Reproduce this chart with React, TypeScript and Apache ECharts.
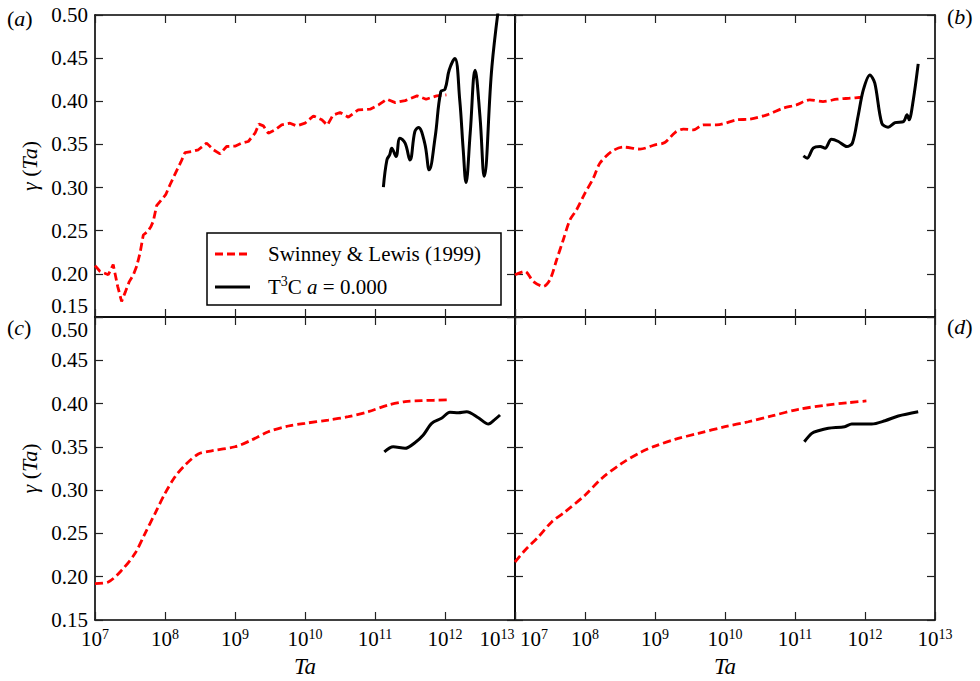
import React, { useEffect, useRef } from 'react';
import * as echarts from 'echarts';

const FONT = "'Liberation Serif', 'Times New Roman', serif";
const FS = 21;
const FS_SUP = 14;

// Axis ticks
const X_MIN_EXP = 7;
const X_MAX_EXP = 13;
const Y_MIN = 0.15;
const Y_MAX = 0.5;
const Y_STEP = 0.05;

const SERIES_RED = 'Swinney & Lewis (1999)';
const SERIES_BLACK = 'T³C a = 0.000';

// Panel (a): log10(Ta) and gamma
const aRedLogTa = [7.0, 7.07, 7.19, 7.26, 7.324, 7.38, 7.438, 7.49, 7.548, 7.595, 7.643, 7.69, 7.752, 7.8, 7.833, 7.88, 7.952, 8.01, 8.07, 8.143, 8.229, 8.286, 8.38, 8.476, 8.595, 8.69, 8.786, 8.88, 9.0, 9.095, 9.19, 9.286, 9.343, 9.405, 9.476, 9.571, 9.667, 9.786, 9.88, 10.0, 10.12, 10.24, 10.32, 10.4, 10.5, 10.62, 10.76, 10.93, 11.05, 11.17, 11.29, 11.43, 11.6, 11.73, 11.88, 12.02];
const aRedGamma = [0.2095, 0.203, 0.199, 0.2107, 0.1855, 0.168, 0.18, 0.191, 0.199, 0.2087, 0.224, 0.245, 0.249, 0.255, 0.261, 0.279, 0.286, 0.2917, 0.303, 0.3156, 0.33, 0.3406, 0.3418, 0.3438, 0.3515, 0.3438, 0.339, 0.3476, 0.348, 0.3515, 0.3534, 0.363, 0.3735, 0.3715, 0.363, 0.3668, 0.3727, 0.3746, 0.3715, 0.3746, 0.383, 0.3785, 0.3723, 0.384, 0.387, 0.3816, 0.39, 0.3909, 0.3958, 0.4024, 0.3985, 0.4008, 0.4063, 0.4024, 0.4063, 0.4074];
const aBlackLogTa = [11.12, 11.17, 11.21, 11.24, 11.3, 11.357, 11.43, 11.5, 11.57, 11.62, 11.71, 11.775, 11.86, 11.94, 12.0, 12.06, 12.14, 12.21, 12.26, 12.3, 12.36, 12.43, 12.5, 12.56, 12.67, 12.8];
const aBlackGamma = [0.3006, 0.332, 0.338, 0.3457, 0.336, 0.3573, 0.3515, 0.332, 0.365, 0.3696, 0.3515, 0.3206, 0.359, 0.4112, 0.414, 0.4363, 0.4497, 0.402, 0.344, 0.306, 0.363, 0.436, 0.382, 0.313, 0.44, 0.53];

// Panel (b)
const bRedLogTa = [7.0, 7.14, 7.26, 7.405, 7.5, 7.595, 7.69, 7.786, 7.88, 8.0, 8.12, 8.214, 8.38, 8.548, 8.786, 9.0, 9.14, 9.286, 9.405, 9.548, 9.69, 9.88, 10.17, 10.36, 10.6, 10.83, 11.02, 11.21, 11.4, 11.6, 11.79, 11.95];
const bRedGamma = [0.199, 0.2029, 0.1913, 0.1855, 0.1933, 0.2164, 0.2396, 0.2627, 0.2743, 0.2936, 0.311, 0.3284, 0.3418, 0.3469, 0.3446, 0.3495, 0.3522, 0.3638, 0.3677, 0.3669, 0.3727, 0.3727, 0.3785, 0.3793, 0.3843, 0.392, 0.3958, 0.4016, 0.3997, 0.4024, 0.4036, 0.4047];
const bBlackLogTa = [11.12, 11.175, 11.26, 11.36, 11.43, 11.52, 11.62, 11.74, 11.82, 11.9, 11.975, 12.07, 12.14, 12.24, 12.33, 12.43, 12.55, 12.6, 12.63, 12.69, 12.76];
const bBlackGamma = [0.3368, 0.3341, 0.3457, 0.3476, 0.3457, 0.356, 0.3534, 0.3476, 0.3515, 0.3823, 0.413, 0.4306, 0.421, 0.3746, 0.37, 0.3753, 0.3765, 0.3843, 0.3785, 0.4016, 0.4433];

// Panel (c)
const cRedLogTa = [7.0, 7.19, 7.38, 7.57, 7.714, 7.857, 8.0, 8.143, 8.286, 8.476, 8.667, 9.0, 9.238, 9.476, 9.762, 10.0, 10.333, 10.62, 10.905, 11.19, 11.43, 11.667, 12.05];
const cRedGamma = [0.192, 0.1939, 0.2074, 0.2267, 0.2499, 0.273, 0.2962, 0.3154, 0.3289, 0.3417, 0.3455, 0.3501, 0.3579, 0.3675, 0.3741, 0.3772, 0.381, 0.3849, 0.3906, 0.3984, 0.4022, 0.4034, 0.4042];
const cBlackLogTa = [11.133, 11.26, 11.43, 11.57, 11.69, 11.81, 11.95, 12.07, 12.19, 12.31, 12.476, 12.62, 12.714, 12.786];
const cBlackGamma = [0.3443, 0.3501, 0.3483, 0.3548, 0.3637, 0.3772, 0.383, 0.3899, 0.3895, 0.3906, 0.3837, 0.3764, 0.3818, 0.3868];

// Panel (d)
const dRedLogTa = [7.0, 7.143, 7.333, 7.524, 7.714, 8.0, 8.238, 8.524, 8.81, 9.0, 9.286, 9.62, 10.0, 10.333, 10.667, 11.05, 11.43, 11.76, 12.02];
const dRedGamma = [0.217, 0.2306, 0.246, 0.2633, 0.2749, 0.2942, 0.3135, 0.3309, 0.3443, 0.3509, 0.3587, 0.3656, 0.3733, 0.379, 0.3857, 0.3934, 0.398, 0.401, 0.403];
const dBlackLogTa = [11.133, 11.24, 11.333, 11.476, 11.71, 11.81, 12.095, 12.286, 12.476, 12.76];
const dBlackGamma = [0.3559, 0.3656, 0.3686, 0.3714, 0.3733, 0.3764, 0.3764, 0.3802, 0.3857, 0.3906];

const toPairs = (logTa: number[], gamma: number[]) => logTa.map((e, i) => [Math.pow(10, e), gamma[i]]);

const near = (a: number, b: number) => Math.abs(a - b) < 1e-6;

type Panel = {
  key: string;
  left: number;
  top: number;
  width: number;
  height: number;
  showX: boolean;
  showY: boolean;
  isTop: boolean;
  red: number[][];
  black: number[][];
  redSmooth: number | boolean;
  blackSmooth: number | boolean;
};

const PANELS: Panel[] = [
  { key: 'a', left: 95, top: 15, width: 420, height: 302, showX: false, showY: true, isTop: true, red: toPairs(aRedLogTa, aRedGamma), black: toPairs(aBlackLogTa, aBlackGamma), redSmooth: false, blackSmooth: 0.4 },
  { key: 'b', left: 515, top: 15, width: 420, height: 302, showX: false, showY: false, isTop: true, red: toPairs(bRedLogTa, bRedGamma), black: toPairs(bBlackLogTa, bBlackGamma), redSmooth: 0.3, blackSmooth: 0.3 },
  { key: 'c', left: 95, top: 317, width: 420, height: 303, showX: true, showY: true, isTop: false, red: toPairs(cRedLogTa, cRedGamma), black: toPairs(cBlackLogTa, cBlackGamma), redSmooth: 0.3, blackSmooth: 0.3 },
  { key: 'd', left: 515, top: 317, width: 420, height: 303, showX: true, showY: false, isTop: false, red: toPairs(dRedLogTa, dRedGamma), black: toPairs(dBlackLogTa, dBlackGamma), redSmooth: 0.3, blackSmooth: 0.3 },
];

const axisLine = { show: true, onZero: false, lineStyle: { color: '#000', width: 1.6 } };
const axisTick = { show: true, inside: true, length: 8, lineStyle: { color: '#222', width: 1.2 } };

function buildOption() {
  const grid: any[] = [];
  const xAxis: any[] = [];
  const yAxis: any[] = [];
  const series: any[] = [];

  PANELS.forEach((p, i) => {
    grid.push({ left: p.left, top: p.top, width: p.width, height: p.height, containLabel: false });

    const xBase: any = {
      gridIndex: i,
      type: 'log',
      logBase: 10,
      min: Math.pow(10, X_MIN_EXP),
      max: Math.pow(10, X_MAX_EXP),
      splitNumber: X_MAX_EXP - X_MIN_EXP,
      axisLine,
      axisTick,
      minorTick: { show: false },
      splitLine: { show: false },
    };
    xAxis.push({
      ...xBase,
      position: 'bottom',
      name: p.showX ? 'Ta' : '',
      nameLocation: 'middle',
      nameGap: 35,
      nameTextStyle: { fontFamily: FONT, fontSize: 23, fontStyle: 'italic', color: '#000' },
      axisLabel: p.showX
        ? {
            show: true,
            margin: 7,
            color: '#000',
            fontFamily: FONT,
            fontSize: FS,
            formatter: (v: number) => {
              const e = Math.round(Math.log10(v));
              if (p.key === 'c' && e === X_MAX_EXP) return `{b|10}{sr|${e}}`;
              if (p.key === 'd' && e === X_MIN_EXP) return `{bl|10}{s|${e}}`;
              return `{b|10}{s|${e}}`;
            },
            rich: {
              b: { fontFamily: FONT, fontSize: FS, color: '#000' },
              bl: { fontFamily: FONT, fontSize: FS, color: '#000', padding: [0, 0, 0, 38] },
              s: { fontFamily: FONT, fontSize: FS_SUP, color: '#000', padding: [0, 0, 10, 0] },
              sr: { fontFamily: FONT, fontSize: FS_SUP, color: '#000', padding: [0, 36, 10, 0] },
            },
          }
        : { show: false },
    });
    xAxis.push({ ...xBase, position: 'top', axisLabel: { show: false } });

    const yBase: any = {
      gridIndex: i,
      type: 'value',
      min: Y_MIN,
      max: Y_MAX,
      interval: Y_STEP,
      axisLine,
      axisTick,
      splitLine: { show: false },
    };
    yAxis.push({
      ...yBase,
      position: 'left',
      name: p.showY ? '{g|γ} ({i|Ta})' : '',
      nameLocation: 'middle',
      nameRotate: 90,
      nameGap: 55,
      nameTextStyle: {
        fontFamily: FONT,
        fontSize: 22,
        color: '#000',
        rich: {
          g: { fontFamily: FONT, fontSize: 22, fontStyle: 'italic', color: '#000' },
          i: { fontFamily: FONT, fontSize: 22, fontStyle: 'italic', color: '#000' },
        },
      },
      axisLabel: p.showY
        ? {
            show: true,
            margin: 7,
            color: '#000',
            fontFamily: FONT,
            fontSize: FS,
            formatter: (v: number) => {
              const t = v.toFixed(2);
              if (p.isTop && near(v, Y_MIN)) return `{up|${t}}`;
              if (!p.isTop && near(v, Y_MAX)) return `{dn|${t}}`;
              return `{n|${t}}`;
            },
            rich: {
              n: { fontFamily: FONT, fontSize: FS, color: '#000' },
              up: { fontFamily: FONT, fontSize: FS, color: '#000', padding: [0, 0, 22, 0] },
              dn: { fontFamily: FONT, fontSize: FS, color: '#000', padding: [26, 0, 0, 0] },
            },
          }
        : { show: false },
    });
    yAxis.push({ ...yBase, position: 'right', axisLabel: { show: false } });

    series.push({
      name: SERIES_RED,
      type: 'line',
      xAxisIndex: 2 * i,
      yAxisIndex: 2 * i,
      data: p.red,
      symbol: 'none',
      showSymbol: false,
      smooth: p.redSmooth,
      clip: true,
      lineStyle: { color: '#ff0000', width: 2.8, type: [8, 4] },
      z: 3,
    });
    series.push({
      name: SERIES_BLACK,
      type: 'line',
      xAxisIndex: 2 * i,
      yAxisIndex: 2 * i,
      data: p.black,
      symbol: 'none',
      showSymbol: false,
      smooth: p.blackSmooth,
      clip: true,
      lineStyle: { color: '#000', width: 3 },
      z: 4,
    });
  });

  const panelLabel = (letter: string, x: number, y: number) => ({
    type: 'text',
    x,
    y,
    z: 100,
    style: {
      text: `({i|${letter}})`,
      font: `22px ${FONT}`,
      fill: '#000',
      verticalAlign: 'top',
      rich: { i: { font: `italic 22px ${FONT}`, fill: '#000' } },
    },
  });

  const graphic: any[] = [
    panelLabel('a', 7, 7),
    panelLabel('b', 947, 5),
    panelLabel('c', 7, 316),
    panelLabel('d', 947, 315),
    {
      type: 'rect',
      z: 100,
      shape: { x: 207, y: 233, width: 294, height: 72 },
      style: { fill: '#fff', stroke: '#000', lineWidth: 1.5 },
    },
    {
      type: 'line',
      z: 101,
      shape: { x1: 215, y1: 254, x2: 250, y2: 254 },
      style: { stroke: '#ff0000', lineWidth: 2.8, lineDash: [8, 4] },
    },
    {
      type: 'line',
      z: 101,
      shape: { x1: 215, y1: 287, x2: 250, y2: 287 },
      style: { stroke: '#000', lineWidth: 3 },
    },
    {
      type: 'text',
      x: 268,
      y: 254,
      z: 101,
      style: { text: SERIES_RED, font: `${FS}px ${FONT}`, fill: '#000', verticalAlign: 'middle' },
    },
    {
      type: 'text',
      x: 268,
      y: 287,
      z: 101,
      style: {
        text: '{n|T}{s|3}{n|C }{i|a}{n| = 0.000}',
        font: `${FS}px ${FONT}`,
        fill: '#000',
        verticalAlign: 'middle',
        rich: {
          n: { font: `${FS}px ${FONT}`, fill: '#000' },
          s: { font: `${FS_SUP}px ${FONT}`, fill: '#000', padding: [0, 0, 12, 0] },
          i: { font: `italic ${FS}px ${FONT}`, fill: '#000' },
        },
      },
    },
  ];

  return {
    animation: false,
    backgroundColor: '#fff',
    grid,
    xAxis,
    yAxis,
    series,
    graphic,
  };
}

export default function App() {
  const ref = useRef<HTMLDivElement>(null);
  useEffect(() => {
    if (!ref.current) return;
    const chart = echarts.init(ref.current, undefined, { renderer: 'svg' });
    chart.setOption(buildOption() as any);
    return () => chart.dispose();
  }, []);
  return <div ref={ref} style={{ position: 'absolute', left: 0, top: 0, width: 980, height: 681 }} />;
}
